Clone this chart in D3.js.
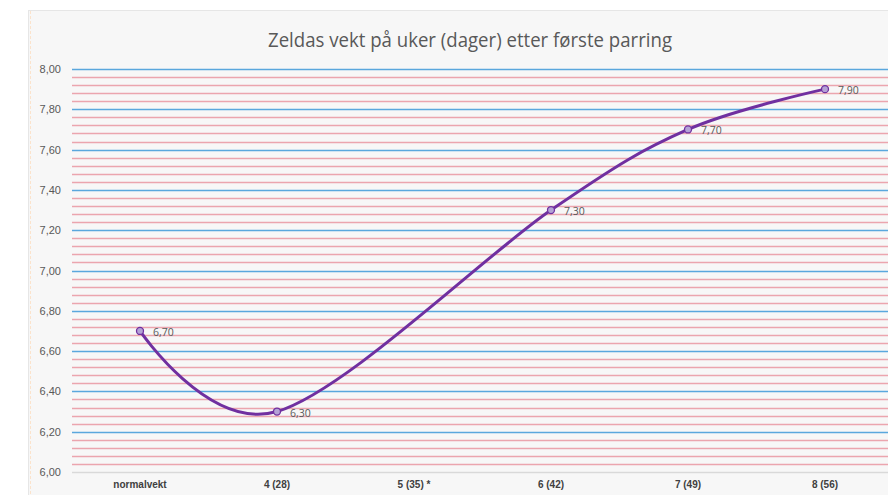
<!DOCTYPE html>
<html>
<head>
<meta charset="utf-8">
<script src="https://cdn.jsdelivr.net/npm/d3@7"></script>
<style>
  body { margin: 0; background: #fff; }
  svg { display: block; font-family: "Open Sans", "Noto Sans", sans-serif; }
</style>
</head>
<body>
<div id="chart-area"></div>
<script>
// data
var categories = ["normalvekt", "4 (28)", "5 (35) *", "6 (42)", "7 (49)", "8 (56)"];
var weights = [6.70, 6.30, null, 7.30, 7.70, 7.90];
var yTicks = [6.0, 6.2, 6.4, 6.6, 6.8, 7.0, 7.2, 7.4, 7.6, 7.8, 8.0];
var minorStep = 0.04;
var title = "Zeldas vekt på uker (dager) etter første parring";

var W = 888, H = 495;
var svg = d3.select("#chart-area")
    .append("svg")
        .attr("width", W)
        .attr("height", H);

// chart box
svg.append("rect")
    .attr("x", 28.5).attr("y", 10.5)
    .attr("width", W).attr("height", H)
    .attr("fill", "#f7f7f7")
    .attr("stroke", "#e6e6e6");
svg.append("line")
    .attr("x1", 30.5).attr("x2", 30.5)
    .attr("y1", 11).attr("y2", H)
    .attr("stroke", "#fbe3cc")
    .attr("stroke-dasharray", "3,2");

var x = d3.scaleBand()
    .domain(categories)
    .range([71.5, 71.5 + 137 * categories.length]);

var y = d3.scaleLinear()
    .domain([6, 8])
    .range([472, 69]);

// minor (red) gridlines
var minor = d3.range(6 + minorStep, 8, minorStep).filter(function(v){
    return Math.abs(v / 0.2 - Math.round(v / 0.2)) > 0.01;
});
svg.selectAll("line.minor")
    .data(minor)
    .enter()
        .append("line")
        .attr("class", "minor")
        .attr("x1", 72).attr("x2", W)
        .attr("y1", function(d){ return Math.round(y(d)) + 0.5; })
        .attr("y2", function(d){ return Math.round(y(d)) + 0.5; })
        .attr("stroke", "#eba5ae")
        .attr("stroke-width", 1.3);

// major (blue) gridlines
svg.selectAll("line.major")
    .data(yTicks)
    .enter()
        .append("line")
        .attr("class", "major")
        .attr("x1", 72).attr("x2", W)
        .attr("y1", function(d){ return Math.round(y(d)) + 0.5; })
        .attr("y2", function(d){ return Math.round(y(d)) + 0.5; })
        .attr("stroke", function(d){ return d === 6 ? "#d9d9d9" : "#5aa7dd"; })
        .attr("stroke-width", 1.3);

// y axis labels
var fmt = function(d){ return d3.format(".2f")(d).replace(".", ","); };
var yAxis = d3.axisLeft(y).tickValues(yTicks).tickFormat(fmt).tickSize(0).tickPadding(0);
var gy = svg.append("g")
    .attr("transform", "translate(61,0)")
    .call(yAxis);
gy.select(".domain").remove();
gy.selectAll("text")
    .attr("fill", "#595959")
    .style("font-size", "11px");

// x axis labels
var xAxis = d3.axisBottom(x).tickSize(0).tickPadding(0);
var gx = svg.append("g")
    .attr("transform", "translate(0,481)")
    .call(xAxis);
gx.select(".domain").remove();
gx.selectAll("text")
    .attr("fill", "#404040")
    .style("font-size", "10px")
    .style("font-weight", "600");

// title
svg.append("text")
    .attr("x", 470)
    .attr("y", 47)
    .attr("text-anchor", "middle")
    .attr("fill", "#595959")
    .style("font-size", "20px")
    .attr("textLength", 404)
    .attr("lengthAdjust", "spacingAndGlyphs")
    .text(title);

// line through known points (gap is bridged)
var points = categories.map(function(c, i){
    return {cat: c, v: weights[i]};
}).filter(function(d){ return d.v !== null; });

var line = d3.line()
    .x(function(d){ return x(d.cat) + x.bandwidth() / 2; })
    .y(function(d){ return y(d.v); })
    .curve(d3.curveCardinal.tension(0));

svg.append("path")
    .datum(points)
    .attr("d", line)
    .attr("fill", "none")
    .attr("stroke", "#7030a0")
    .attr("stroke-width", 3);

svg.selectAll("circle.pt")
    .data(points)
    .enter()
        .append("circle")
        .attr("class", "pt")
        .attr("cx", function(d){ return x(d.cat) + x.bandwidth() / 2; })
        .attr("cy", function(d){ return y(d.v); })
        .attr("r", 3.5)
        .attr("fill", "#b4a2d6")
        .attr("stroke", "#7030a0")
        .attr("stroke-width", 1.3);

svg.selectAll("text.lbl")
    .data(points)
    .enter()
        .append("text")
        .attr("class", "lbl")
        .attr("x", function(d){ return x(d.cat) + x.bandwidth() / 2 + 13; })
        .attr("y", function(d){ return y(d.v) + 5; })
        .attr("fill", "#595959")
        .style("font-size", "10.5px")
        .text(function(d){ return fmt(d.v); });
</script>
</body>
</html>
